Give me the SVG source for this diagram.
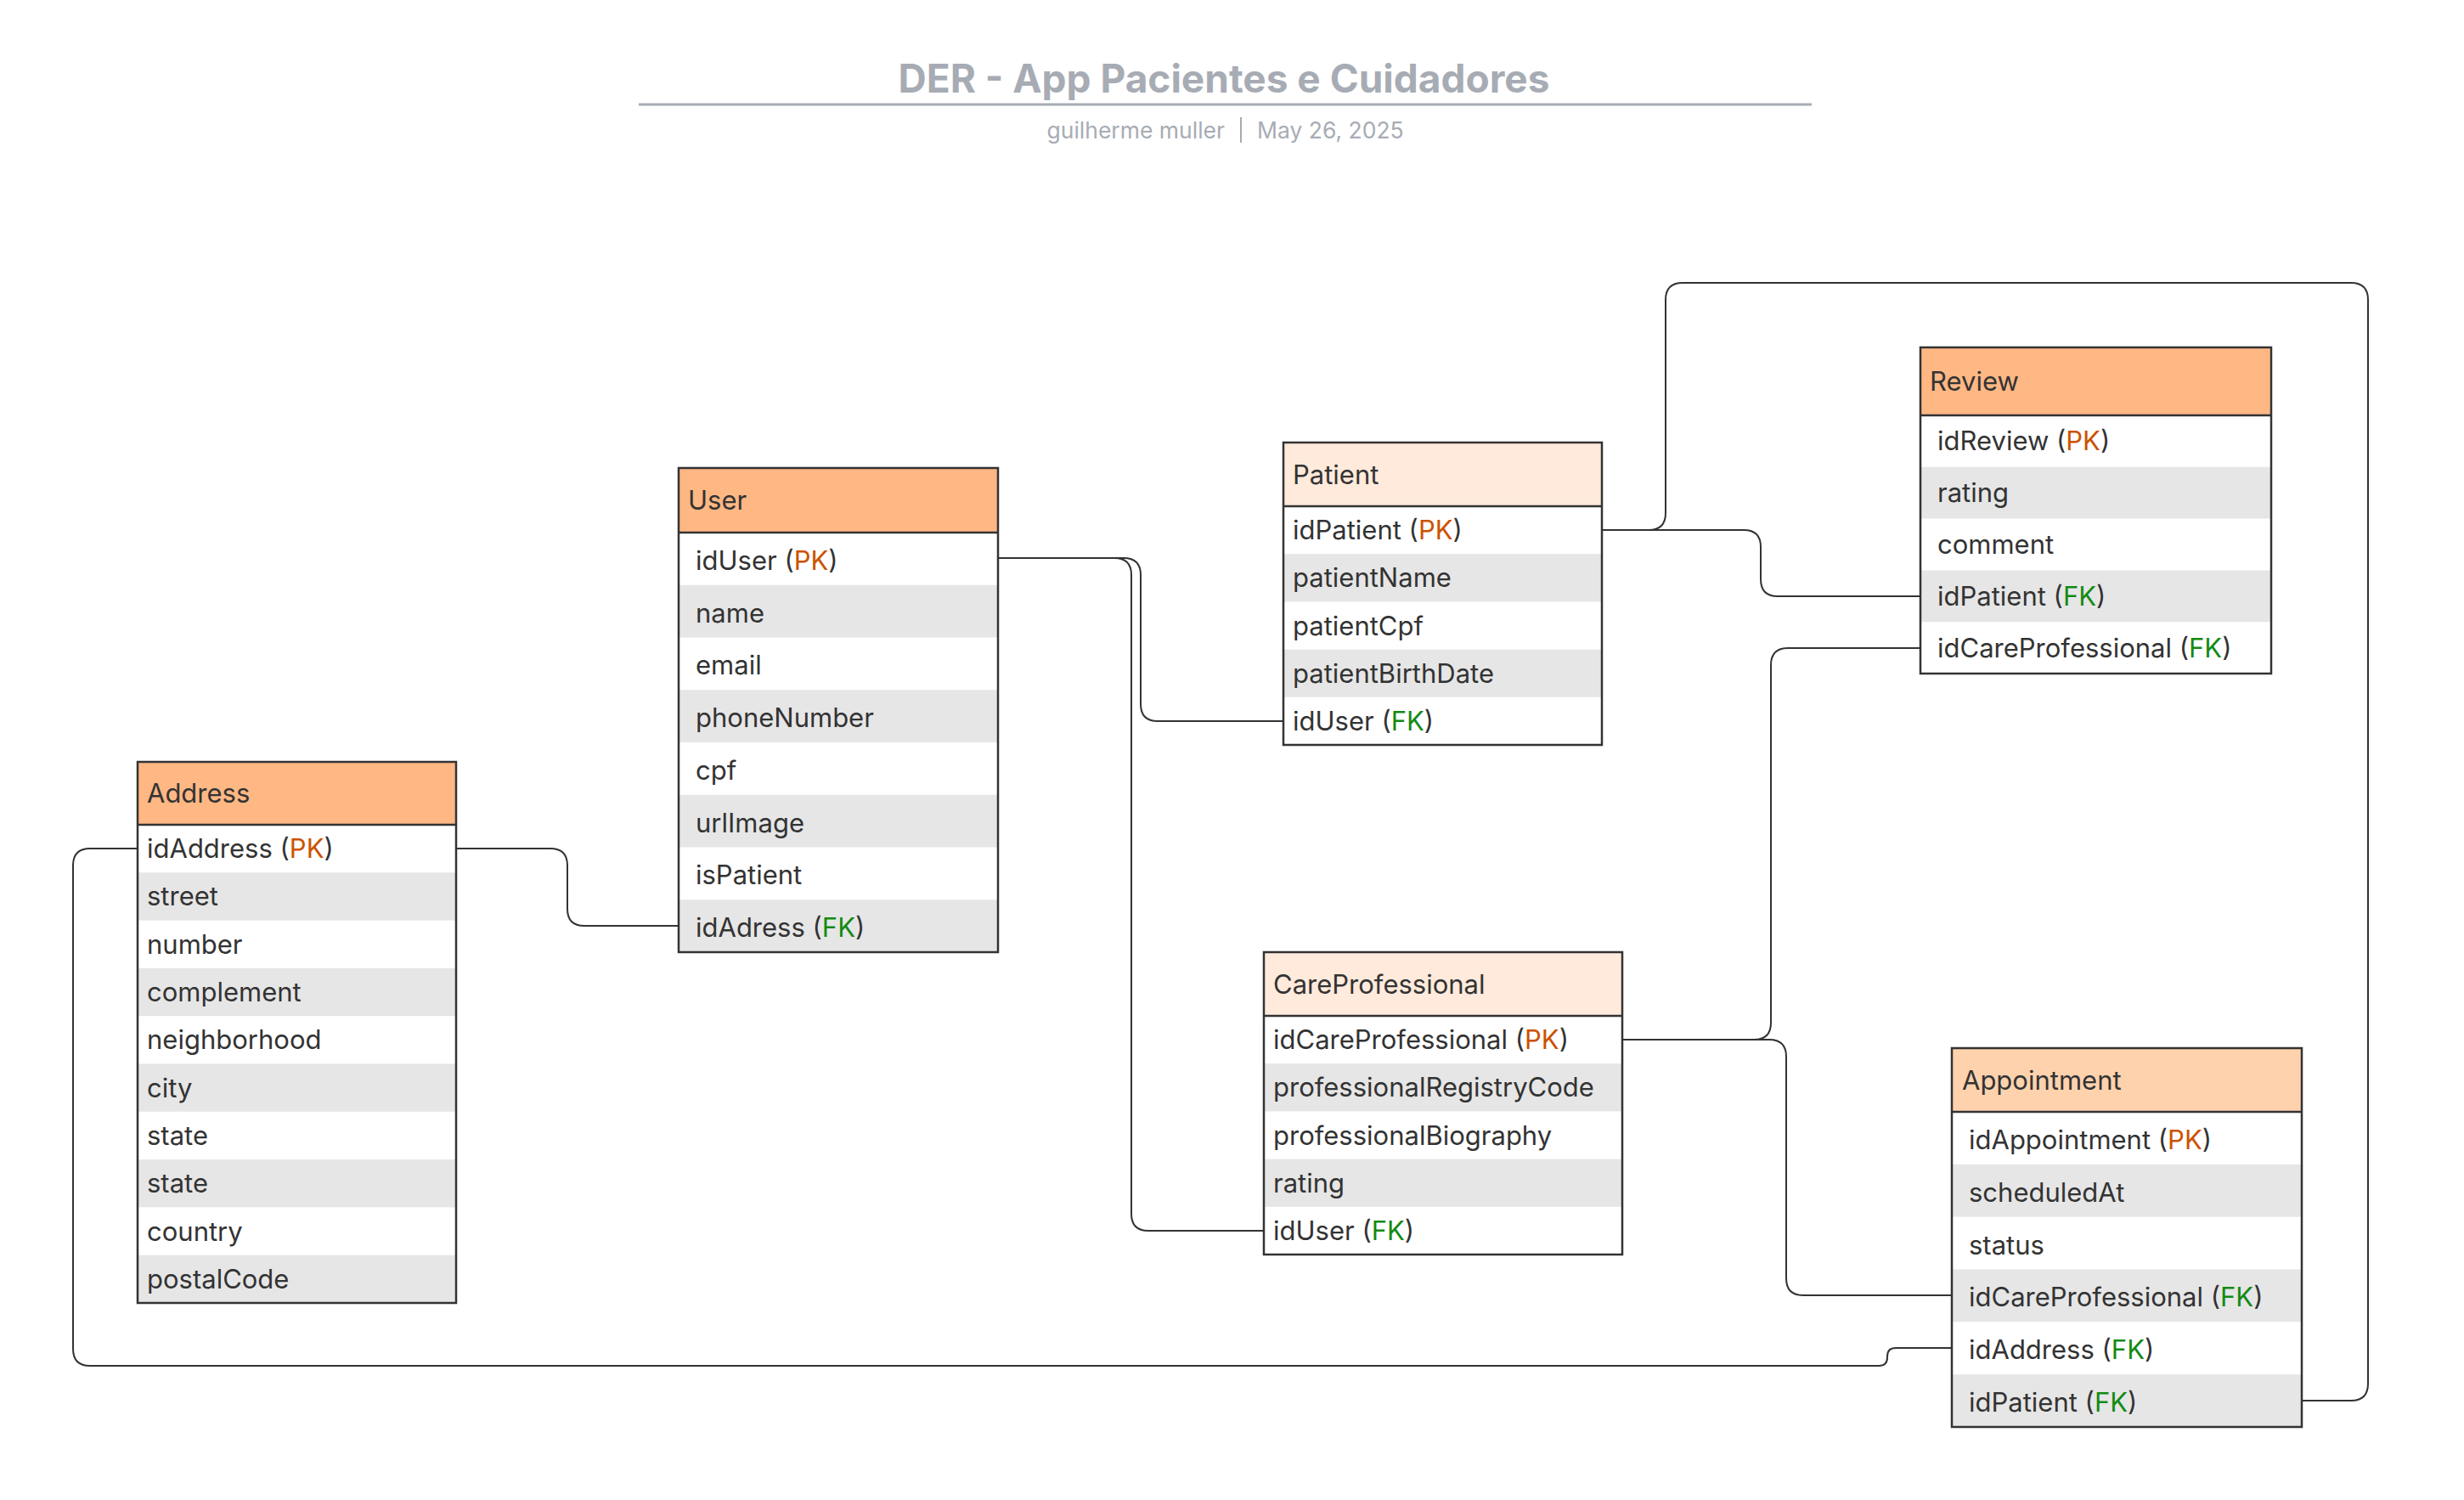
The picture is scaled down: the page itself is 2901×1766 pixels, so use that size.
<svg xmlns="http://www.w3.org/2000/svg" width="2901" height="1766" viewBox="0 0 2901 1766">
<style>
text{font-family:Inter,"Noto Sans","Liberation Sans",sans-serif;fill:#333333;font-size:31px}
.title{font-size:46px;font-weight:700;fill:#A7ACB4}
.sub{font-size:26.5px;fill:#A7ACB4}
.frame{fill:none;stroke:#333333;stroke-width:2.5}
.sep{stroke:#333333;stroke-width:2.5}
.g{fill:#E6E6E6}
.w{fill:#FFFFFF}
.h1{fill:#FFB784}
.h2{fill:#FFEADB}
.h3{fill:#FFD2AE}
.pk{fill:#CC5200}
.fk{fill:#138A13}
.conn path{fill:none;stroke:#333333;stroke-width:2}
</style>
<rect width="2901" height="1766" fill="#FFFFFF"/>
<g id="title">
<text class="title" x="1441" y="109" text-anchor="middle">DER - App Pacientes e Cuidadores</text>
<line x1="752" y1="123" x2="2133" y2="123" stroke="#A7ACB4" stroke-width="3"/>
<text class="sub" x="1442" y="163" text-anchor="end">guilherme muller</text>
<line x1="1461" y1="138" x2="1461" y2="168" stroke="#A7ACB4" stroke-width="2"/>
<text class="sub" x="1480" y="163">May 26, 2025</text>
</g>
<g class="conn" id="connectors">
<path d="M1175,657 H1323 Q1343,657 1343,677 V829 Q1343,849 1363,849 H1511"/>
<path d="M1175,657 H1312 Q1332,657 1332,677 V1429 Q1332,1449 1352,1449 H1488"/>
<path d="M537,999 H648 Q668,999 668,1019 V1070 Q668,1090 688,1090 H799"/>
<path d="M162,999 H106 Q86,999 86,1019 V1588 Q86,1608 106,1608 H2212 Q2222,1608 2222,1598 V1597 Q2222,1587 2232,1587 H2298"/>
<path d="M1886,624 H1941 Q1961,624 1961,604 V353 Q1961,333 1981,333 H2768 Q2788,333 2788,353 V1629 Q2788,1649 2768,1649 H2710"/>
<path d="M1886,624 H2053 Q2073,624 2073,644 V682 Q2073,702 2093,702 H2261"/>
<path d="M1910,1224 H2065 Q2085,1224 2085,1204 V783 Q2085,763 2105,763 H2261"/>
<path d="M1910,1224 H2083 Q2103,1224 2103,1244 V1505 Q2103,1525 2123,1525 H2298"/>
</g>
<g id="User">
<rect class="h1" x="799" y="551" width="376" height="76"/>
<rect class="w" x="799" y="627" width="376" height="494"/>
<rect class="g" x="799" y="688.75" width="376" height="61.75"/>
<rect class="g" x="799" y="812.25" width="376" height="61.75"/>
<rect class="g" x="799" y="935.75" width="376" height="61.75"/>
<rect class="g" x="799" y="1059.25" width="376" height="61.75"/>
<line class="sep" x1="799" y1="627" x2="1175" y2="627"/>
<rect class="frame" x="799" y="551" width="376" height="570"/>
<text x="810" y="600">User</text>
<text x="819" y="671">idUser (<tspan class="pk">PK</tspan>)</text>
<text x="819" y="733">name</text>
<text x="819" y="794">email</text>
<text x="819" y="856">phoneNumber</text>
<text x="819" y="918">cpf</text>
<text x="819" y="980">urlImage</text>
<text x="819" y="1041">isPatient</text>
<text x="819" y="1103">idAdress (<tspan class="fk">FK</tspan>)</text>
</g>
<g id="Address">
<rect class="h1" x="162" y="897" width="375" height="74"/>
<rect class="w" x="162" y="971" width="375" height="563"/>
<rect class="g" x="162" y="1027.3" width="375" height="56.3"/>
<rect class="g" x="162" y="1139.9" width="375" height="56.3"/>
<rect class="g" x="162" y="1252.5" width="375" height="56.3"/>
<rect class="g" x="162" y="1365.1" width="375" height="56.3"/>
<rect class="g" x="162" y="1477.7" width="375" height="56.3"/>
<line class="sep" x1="162" y1="971" x2="537" y2="971"/>
<rect class="frame" x="162" y="897" width="375" height="637"/>
<text x="173" y="945">Address</text>
<text x="173" y="1010">idAddress (<tspan class="pk">PK</tspan>)</text>
<text x="173" y="1066">street</text>
<text x="173" y="1123">number</text>
<text x="173" y="1179">complement</text>
<text x="173" y="1235">neighborhood</text>
<text x="173" y="1292">city</text>
<text x="173" y="1348">state</text>
<text x="173" y="1404">state</text>
<text x="173" y="1461">country</text>
<text x="173" y="1517">postalCode</text>
</g>
<g id="Patient">
<rect class="h2" x="1511" y="521" width="375" height="75"/>
<rect class="w" x="1511" y="596" width="375" height="281"/>
<rect class="g" x="1511" y="652.2" width="375" height="56.2"/>
<rect class="g" x="1511" y="764.6" width="375" height="56.2"/>
<line class="sep" x1="1511" y1="596" x2="1886" y2="596"/>
<rect class="frame" x="1511" y="521" width="375" height="356"/>
<text x="1522" y="570">Patient</text>
<text x="1522" y="635">idPatient (<tspan class="pk">PK</tspan>)</text>
<text x="1522" y="691">patientName</text>
<text x="1522" y="748">patientCpf</text>
<text x="1522" y="804">patientBirthDate</text>
<text x="1522" y="860">idUser (<tspan class="fk">FK</tspan>)</text>
</g>
<g id="CareProfessional">
<rect class="h2" x="1488" y="1121" width="422" height="75"/>
<rect class="w" x="1488" y="1196" width="422" height="281"/>
<rect class="g" x="1488" y="1252.2" width="422" height="56.2"/>
<rect class="g" x="1488" y="1364.6" width="422" height="56.2"/>
<line class="sep" x1="1488" y1="1196" x2="1910" y2="1196"/>
<rect class="frame" x="1488" y="1121" width="422" height="356"/>
<text x="1499" y="1170">CareProfessional</text>
<text x="1499" y="1235">idCareProfessional (<tspan class="pk">PK</tspan>)</text>
<text x="1499" y="1291">professionalRegistryCode</text>
<text x="1499" y="1348">professionalBiography</text>
<text x="1499" y="1404">rating</text>
<text x="1499" y="1460">idUser (<tspan class="fk">FK</tspan>)</text>
</g>
<g id="Review">
<rect class="h1" x="2261" y="409" width="413" height="80"/>
<rect class="w" x="2261" y="489" width="413" height="304"/>
<rect class="g" x="2261" y="549.8" width="413" height="60.8"/>
<rect class="g" x="2261" y="671.4" width="413" height="60.8"/>
<line class="sep" x1="2261" y1="489" x2="2674" y2="489"/>
<rect class="frame" x="2261" y="409" width="413" height="384"/>
<text x="2272" y="460">Review</text>
<text x="2281" y="530">idReview (<tspan class="pk">PK</tspan>)</text>
<text x="2281" y="591">rating</text>
<text x="2281" y="652">comment</text>
<text x="2281" y="713">idPatient (<tspan class="fk">FK</tspan>)</text>
<text x="2281" y="774">idCareProfessional (<tspan class="fk">FK</tspan>)</text>
</g>
<g id="Appointment">
<rect class="h3" x="2298" y="1234" width="412" height="75"/>
<rect class="w" x="2298" y="1309" width="412" height="371"/>
<rect class="g" x="2298" y="1370.8" width="412" height="61.8"/>
<rect class="g" x="2298" y="1494.5" width="412" height="61.8"/>
<rect class="g" x="2298" y="1618.2" width="412" height="61.8"/>
<line class="sep" x1="2298" y1="1309" x2="2710" y2="1309"/>
<rect class="frame" x="2298" y="1234" width="412" height="446"/>
<text x="2310" y="1283">Appointment</text>
<text x="2318" y="1353">idAppointment (<tspan class="pk">PK</tspan>)</text>
<text x="2318" y="1415">scheduledAt</text>
<text x="2318" y="1477">status</text>
<text x="2318" y="1538">idCareProfessional (<tspan class="fk">FK</tspan>)</text>
<text x="2318" y="1600">idAddress (<tspan class="fk">FK</tspan>)</text>
<text x="2318" y="1662">idPatient (<tspan class="fk">FK</tspan>)</text>
</g>
</svg>
